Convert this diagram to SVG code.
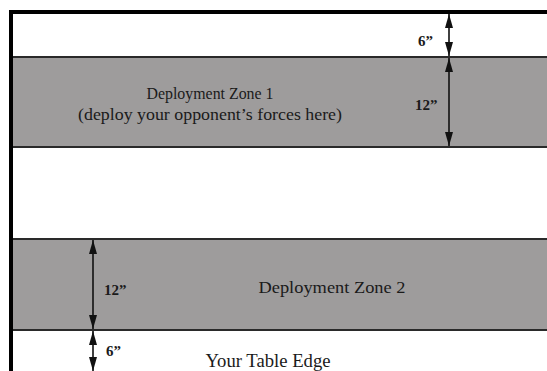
<svg xmlns="http://www.w3.org/2000/svg" width="547" height="371" viewBox="0 0 547 371">
  <defs>
    <marker id="head" viewBox="0 0 14 8" refX="14" refY="4" markerWidth="14" markerHeight="8" markerUnits="userSpaceOnUse" orient="auto-start-reverse">
      <path d="M0,0 L14,4 L0,8 Z" fill="#111"/>
    </marker>
    <style>
      .zone { fill: #9e9c9c; }
      .rule { stroke: #2a2a2a; stroke-width: 2; fill: none; }
      .edge { stroke: #000; stroke-width: 4; fill: none; }
      .dim { stroke: #111; stroke-width: 1.6; fill: none; marker-start: url(#head); marker-end: url(#head); }
      text { font-family: "Liberation Serif", "Times New Roman", serif; fill: #1a1a1a; }
      .label { font-size: 17px; text-anchor: middle; }
      .edge-label { font-size: 18px; text-anchor: middle; }
      .meas { font-size: 15px; font-weight: bold; }
    </style>
  </defs>

  <rect width="547" height="371" fill="#fff"/>

  <!-- Deployment zones -->
  <g id="zone1">
    <rect class="zone" x="11" y="57" width="536" height="90"/>
    <line class="rule" x1="11" y1="57" x2="547" y2="57"/>
    <line class="rule" x1="11" y1="147" x2="547" y2="147"/>
    <text class="label" x="210" y="99" textLength="127" lengthAdjust="spacingAndGlyphs">Deployment Zone 1</text>
    <text class="label" x="210" y="120" textLength="264" lengthAdjust="spacingAndGlyphs">(deploy your opponent’s forces here)</text>
  </g>

  <g id="zone2">
    <rect class="zone" x="11" y="239" width="536" height="91"/>
    <line class="rule" x1="11" y1="239" x2="547" y2="239"/>
    <line class="rule" x1="11" y1="330" x2="547" y2="330"/>
    <text class="label" x="332" y="293" textLength="147" lengthAdjust="spacingAndGlyphs">Deployment Zone 2</text>
  </g>

  <g id="table-edge">
    <text class="edge-label" x="268" y="367" textLength="125" lengthAdjust="spacingAndGlyphs">Your Table Edge</text>
  </g>

  <!-- Table border -->
  <g id="border">
    <line class="edge" x1="9" y1="12" x2="547" y2="12"/>
    <line class="edge" x1="11" y1="10" x2="11" y2="371"/>
  </g>

  <!-- Measurement arrows -->
  <g id="connectors">
    <line class="dim" x1="449" y1="14" x2="449" y2="56"/>
    <line class="dim" x1="449" y1="58" x2="449" y2="146"/>
    <line class="dim" x1="93" y1="240" x2="93" y2="329"/>
    <line class="dim" x1="93" y1="331" x2="93" y2="371"/>
  </g>

  <g id="measures">
    <text class="meas" x="418" y="46">6”</text>
    <text class="meas" x="415" y="110">12”</text>
    <text class="meas" x="104" y="295">12”</text>
    <text class="meas" x="106" y="356">6”</text>
  </g>
</svg>
